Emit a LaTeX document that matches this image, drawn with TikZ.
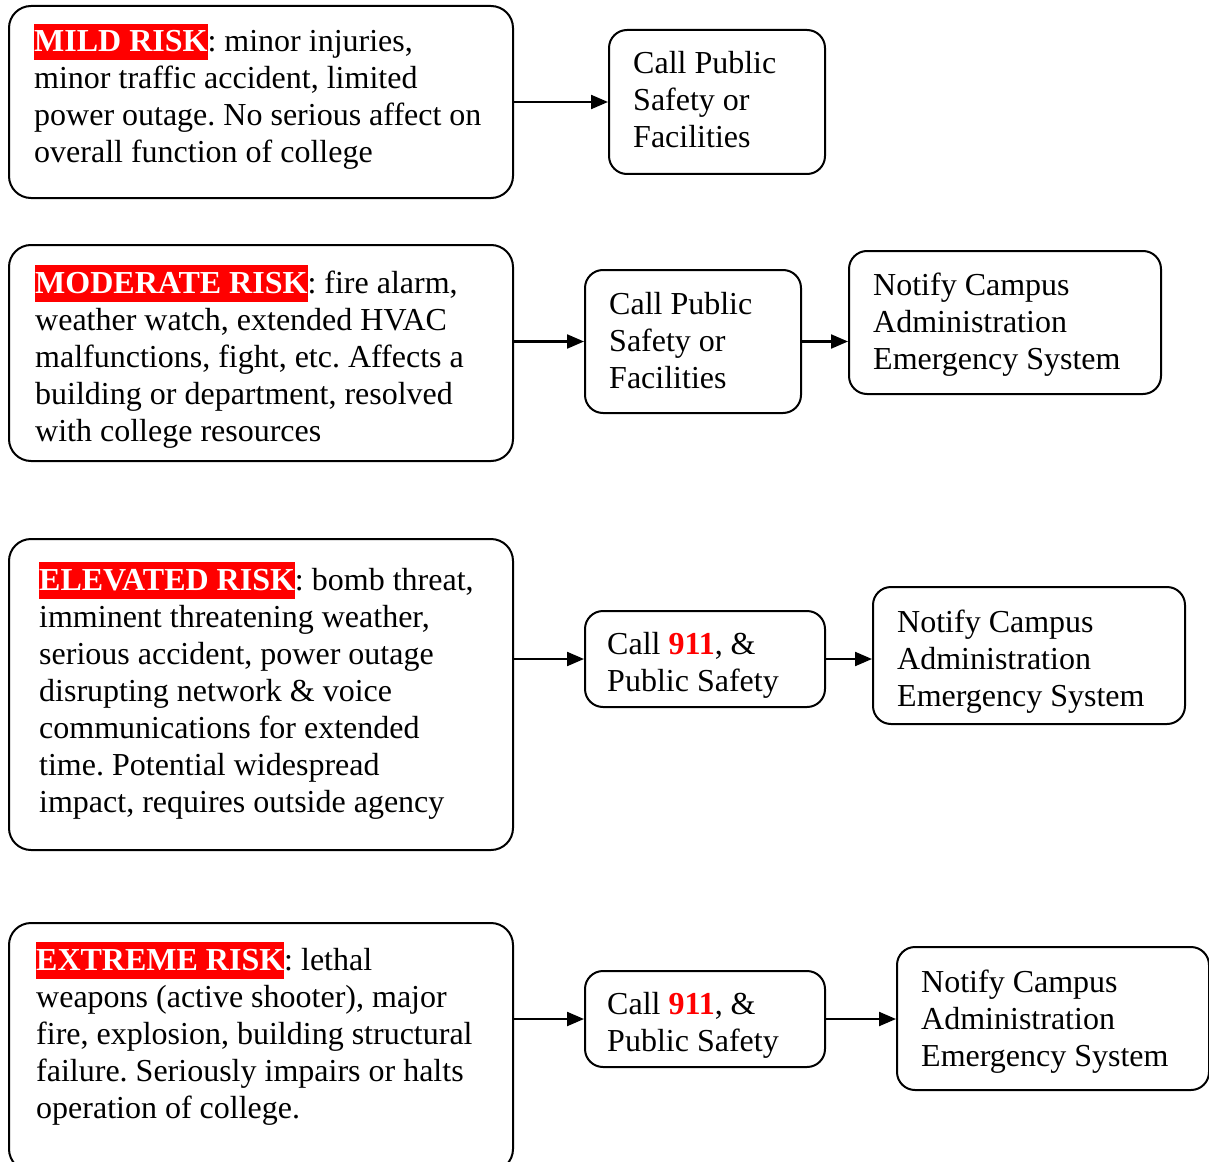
\documentclass[tikz,border=0pt]{standalone}
\usepackage{fontspec}
\setmainfont{Liberation Serif}
\usetikzlibrary{arrows.meta}
\newcommand{\hlrisk}[1]{{\setlength{\fboxsep}{0pt}\colorbox{red}{\rule[-8.5pt]{0pt}{36.5pt}\textcolor{white}{\bfseries #1}}}}
\newcommand{\nine}{\textcolor{red}{\bfseries 911}}
\tikzset{
  rbox/.style={draw, line width=2pt, rounded corners=22pt},
  sbox/.style={draw, line width=2pt, rounded corners=18pt},
  txt/.style={anchor=base west, inner sep=0pt, font=\fontsize{32pt}{37pt}\selectfont},
  arr/.style={line width=2.2pt, -{Triangle[length=17pt,width=14pt]}}
}
\begin{document}
\frenchspacing
\begin{tikzpicture}[x=1pt,y=-1pt]
\useasboundingbox (0,0) rectangle (1209,1161);
% row 1
\node[rbox, minimum width=504pt, minimum height=192pt, anchor=north west] (b1) at (8,5) {};
\node[txt] (t1) at (34,52) {\parbox[t]{480pt}{\hlrisk{MILD RISK}: minor injuries,\\minor traffic accident, limited\\power outage. No serious affect on\\overall function of college}};
\node[sbox, minimum width=216pt, minimum height=144pt, anchor=north west] (b1b) at (608,29) {};
\node[txt] (t1b) at (633,74) {\parbox[t]{200pt}{Call Public\\Safety or\\Facilities}};
\draw[arr] (b1.east |- b1b.west) -- (b1b.west);
% row 2
\node[rbox, minimum width=504pt, minimum height=216pt, anchor=north west] (b2) at (8,244) {};
\node[txt] (t2) at (35,293) {\parbox[t]{480pt}{\hlrisk{MODERATE RISK}: fire alarm,\\weather watch, extended HVAC\\malfunctions, fight, etc. Affects a\\building or department, resolved\\with college resources}};
\node[sbox, minimum width=216pt, minimum height=143pt, anchor=north west] (b2b) at (584,269) {};
\node[txt] (t2b) at (609,314) {\parbox[t]{200pt}{Call Public\\Safety or\\Facilities}};
\node[sbox, minimum width=312pt, minimum height=143pt, anchor=north west] (b2c) at (848,250) {};
\node[txt] (t2c) at (873,295) {\parbox[t]{300pt}{Notify Campus\\Administration\\Emergency System}};
\draw[arr] (b2.east |- b2b.west) -- (b2b.west);
\draw[arr] (b2b.east) -- (b2c.west |- b2b.east);
% row 3
\node[rbox, minimum width=504pt, minimum height=311pt, anchor=north west] (b3) at (8,538) {};
\node[txt] (t3) at (39,590) {\parbox[t]{480pt}{\hlrisk{ELEVATED RISK}: bomb threat,\\imminent threatening weather,\\serious accident, power outage\\disrupting network \& voice\\communications for extended\\time. Potential widespread\\impact, requires outside agency}};
\node[sbox, minimum width=240pt, minimum height=96pt, anchor=north west] (b3b) at (584,610) {};
\node[txt] (t3b) at (607,654) {\parbox[t]{220pt}{Call \nine, \&\\Public Safety}};
\node[sbox, minimum width=312pt, minimum height=137pt, anchor=north west] (b3c) at (872,586) {};
\node[txt] (t3c) at (897,632) {\parbox[t]{300pt}{Notify Campus\\Administration\\Emergency System}};
\draw[arr] (b3.east |- b3b.west) -- (b3b.west);
\draw[arr] (b3b.east) -- (b3c.west |- b3b.east);
% row 4
\node[rbox, minimum width=504pt, minimum height=248pt, anchor=north west] (b4) at (8,922) {};
\node[txt] (t4) at (36,970) {\parbox[t]{480pt}{\hlrisk{EXTREME RISK}: lethal\\weapons (active shooter), major\\fire, explosion, building structural\\failure. Seriously impairs or halts\\operation of college.}};
\node[sbox, minimum width=240pt, minimum height=96pt, anchor=north west] (b4b) at (584,970) {};
\node[txt] (t4b) at (607,1014) {\parbox[t]{220pt}{Call \nine, \&\\Public Safety}};
\node[sbox, minimum width=312pt, minimum height=143pt, anchor=north west] (b4c) at (896,946) {};
\node[txt] (t4c) at (921,992) {\parbox[t]{300pt}{Notify Campus\\Administration\\Emergency System}};
\draw[arr] (b4.east |- b4b.west) -- (b4b.west);
\draw[arr] (b4b.east) -- (b4c.west |- b4b.east);
\end{tikzpicture}
\end{document}
